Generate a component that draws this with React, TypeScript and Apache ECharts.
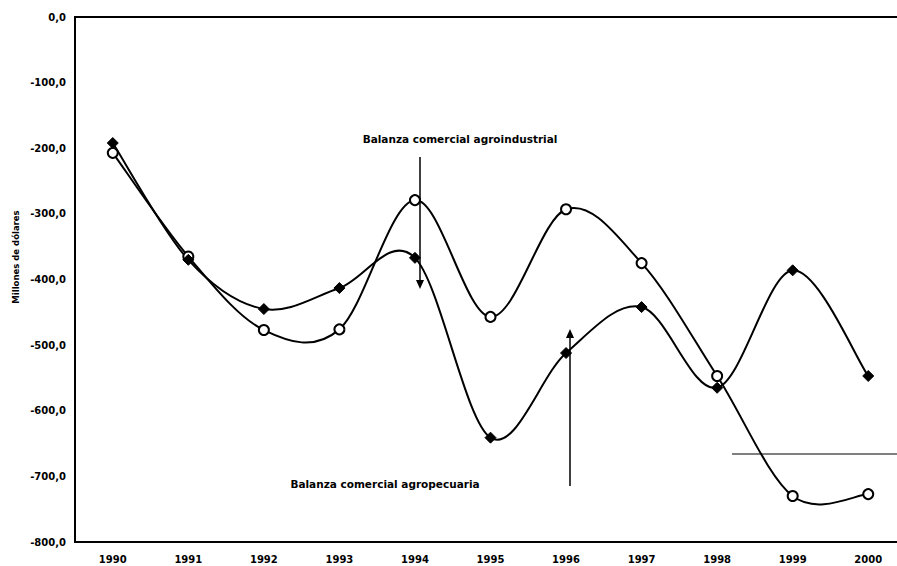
import React, { useEffect, useRef } from "react";
import * as echarts from "echarts";

// Years on the horizontal axis
const years = ["1990", "1991", "1992", "1993", "1994", "1995", "1996", "1997", "1998", "1999", "2000"];

// Trade balance series, millions of dollars
const circleSeries = [-207, -365, -477, -476, -279, -457, -293, -375, -547, -730, -727];
const diamondSeries = [-192, -370, -445, -413, -367, -641, -512, -442, -565, -386, -547];

// Axis range
const yMin = -800;
const yMax = 0;
const yStep = 100;

const labelFont = "'DejaVu Sans', sans-serif";

// Catmull-Rom style smoothed curve, one bezier segment per data item
function smoothCurve(values: number[], name: string) {
  return {
    name,
    type: "custom",
    coordinateSystem: "cartesian2d",
    data: values.slice(0, -1).map((_, i) => [i, values[i]]),
    z: 2,
    silent: true,
    renderItem: (params: any, api: any) => {
      const i = params.dataIndex;
      const n = values.length;
      const pt = (j: number) => {
        const k = Math.max(0, Math.min(n - 1, j));
        return api.coord([k, values[k]]);
      };
      const p0 = pt(i - 1);
      const p1 = pt(i);
      const p2 = pt(i + 1);
      const p3 = pt(i + 2);
      return {
        type: "bezierCurve",
        shape: {
          x1: p1[0],
          y1: p1[1],
          x2: p2[0],
          y2: p2[1],
          cpx1: p1[0] + (p2[0] - p0[0]) / 6,
          cpy1: p1[1] + (p2[1] - p0[1]) / 6,
          cpx2: p2[0] - (p3[0] - p1[0]) / 6,
          cpy2: p2[1] - (p3[1] - p1[1]) / 6,
        },
        style: { stroke: "#000", lineWidth: 2, fill: "none" },
      };
    },
  };
}

export default function App() {
  const ref = useRef<HTMLDivElement>(null);

  useEffect(() => {
    if (!ref.current) return;
    const chart = echarts.init(ref.current, undefined, { renderer: "svg" });

    chart.setOption({
      animation: false,
      backgroundColor: "#ffffff",
      grid: {
        left: 75,
        top: 17,
        width: 831,
        height: 525,
        show: true,
        borderColor: "#000",
        borderWidth: 2,
        backgroundColor: "transparent",
      },
      xAxis: {
        type: "category",
        data: years,
        boundaryGap: true,
        axisLine: { show: true, lineStyle: { color: "#000", width: 2 } },
        axisTick: { show: false },
        axisLabel: {
          color: "#000",
          fontFamily: labelFont,
          fontWeight: "bold",
          fontSize: 10,
          margin: 12,
        },
        splitLine: { show: false },
      },
      yAxis: {
        type: "value",
        min: yMin,
        max: yMax,
        interval: yStep,
        axisLine: { show: true, lineStyle: { color: "#000", width: 2 } },
        axisTick: { show: false },
        splitLine: { show: false },
        axisLabel: {
          color: "#000",
          fontFamily: labelFont,
          fontWeight: "bold",
          fontSize: 10,
          margin: 9,
          formatter: (v: number) => v.toFixed(1).replace(".", ","),
        },
      },
      series: [
        smoothCurve(circleSeries, "circlesCurve"),
        smoothCurve(diamondSeries, "diamondsCurve"),
        {
          name: "circles",
          type: "scatter",
          data: circleSeries,
          symbol: "circle",
          symbolSize: 10,
          itemStyle: { color: "#fff", borderColor: "#000", borderWidth: 2, opacity: 1 },
          z: 4,
        },
        {
          name: "diamonds",
          type: "scatter",
          data: diamondSeries,
          symbol: "diamond",
          symbolSize: 11,
          itemStyle: { color: "#000", borderColor: "#000", borderWidth: 1, opacity: 1 },
          z: 4,
        },
      ],
      graphic: [
        {
          type: "text",
          x: 16,
          y: 257,
          rotation: Math.PI / 2,
          style: {
            text: "Millones de dólares",
            fill: "#000",
            font: `bold 8.5px ${labelFont}`,
            align: "center",
            verticalAlign: "middle",
          },
        },
        {
          type: "text",
          x: 460,
          y: 139,
          style: {
            text: "Balanza comercial agroindustrial",
            fill: "#000",
            font: `bold 10.5px ${labelFont}`,
            align: "center",
            verticalAlign: "middle",
          },
        },
        {
          type: "text",
          x: 385,
          y: 484,
          style: {
            text: "Balanza comercial agropecuaria",
            fill: "#000",
            font: `bold 10.5px ${labelFont}`,
            align: "center",
            verticalAlign: "middle",
          },
        },
        // arrow pointing down from the agroindustrial label
        {
          type: "line",
          shape: { x1: 420, y1: 157, x2: 420, y2: 281 },
          style: { stroke: "#000", lineWidth: 1.5 },
        },
        {
          type: "polygon",
          shape: { points: [[416, 280], [424, 280], [420, 289]] },
          style: { fill: "#000" },
        },
        // arrow pointing up from the agropecuaria label
        {
          type: "line",
          shape: { x1: 570, y1: 486, x2: 570, y2: 337 },
          style: { stroke: "#000", lineWidth: 1.5 },
        },
        {
          type: "polygon",
          shape: { points: [[566, 338], [574, 338], [570, 329]] },
          style: { fill: "#000" },
        },
        // horizontal rule on the right
        {
          type: "line",
          shape: { x1: 732, y1: 454, x2: 897, y2: 454 },
          style: { stroke: "#000", lineWidth: 1.2 },
        },
      ],
    });

    return () => chart.dispose();
  }, []);

  return (
    <div
      style={{
        position: "fixed",
        left: 0,
        top: 0,
        width: 897,
        height: 566,
        overflow: "hidden",
        background: "#fff",
      }}
    >
      <div ref={ref} style={{ width: 920, height: 566 }} />
    </div>
  );
}
